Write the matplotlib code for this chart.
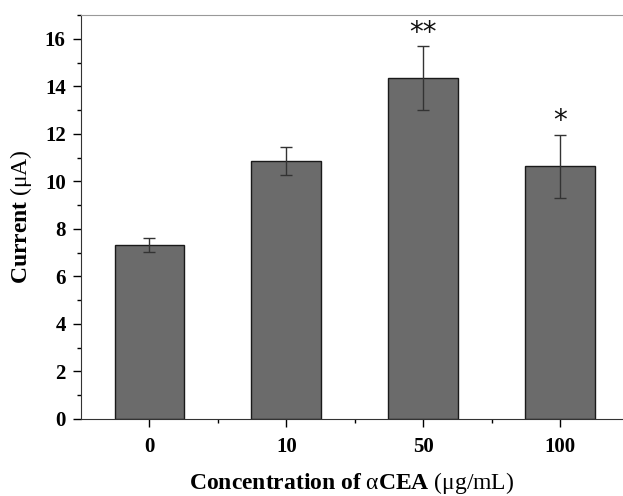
import matplotlib
matplotlib.use("Agg")
import matplotlib.pyplot as plt
import numpy as np
from matplotlib.ticker import MultipleLocator

categories = ["0", "10", "50", "100"]
values = [7.33, 10.85, 14.35, 10.64]
errors = [0.30, 0.58, 1.33, 1.33]
marks = ["", "", "**", "*"]

plt.rcParams['font.family'] = ['Liberation Serif', 'DejaVu Serif']
plt.rcParams['mathtext.fontset'] = 'custom'
plt.rcParams['mathtext.rm'] = 'Liberation Serif'
plt.rcParams['mathtext.bf'] = 'Liberation Serif:bold'
plt.rcParams['mathtext.it'] = 'Liberation Serif:italic'

fig = plt.figure(figsize=(6.23, 4.96), dpi=100)
ax = fig.add_axes([81/623, (496-419)/496, 1 - 81/623, (419-15)/496])
x = np.arange(len(categories))
ax.bar(x, values, width=0.51, color='#6b6b6b', edgecolor='#1a1a1a', linewidth=1.0, zorder=2)
ax.errorbar(x, values, yerr=errors, fmt='none', ecolor='#333333', elinewidth=1.0, capsize=4, capthick=1.0, zorder=3)
for xi, v, e, m in zip(x, values, errors, marks):
    if m:
        ax.text(xi, v + e + 0.22, m, ha='center', va='baseline', fontsize=20,
                family=['DejaVu Sans'], color='#111111')

ax.set_xlim(-0.5, 3.46)
ax.set_ylim(0, 17)
ax.set_xticks(x)
ax.set_xticklabels(categories)
ax.set_xticks(x[:-1] + 0.5, minor=True)
ax.yaxis.set_major_locator(MultipleLocator(2))
ax.yaxis.set_minor_locator(MultipleLocator(1))
ax.tick_params(axis='both', which='major', direction='out', length=6, width=1, labelsize=15, pad=5)
ax.tick_params(axis='both', which='minor', direction='out', length=3, width=1)
ax.tick_params(axis='x', which='major', pad=7)
for lab in ax.get_xticklabels() + ax.get_yticklabels():
    lab.set_fontweight('bold')

ax.spines['right'].set_visible(False)
ax.spines['top'].set_color('#999999')
ax.spines['left'].set_color('#333333')
ax.spines['bottom'].set_color('#333333')

ax.set_ylabel(r'$\mathbf{Current}\ (\mathrm{\mu A})$', fontsize=17, labelpad=8)
ax.set_xlabel(r'$\mathbf{Concentration\ of}\ \mathrm{\alpha}\mathbf{CEA}\ (\mathrm{\mu g/mL})$', fontsize=17, labelpad=9)

fig.savefig('out.png', dpi=100)
